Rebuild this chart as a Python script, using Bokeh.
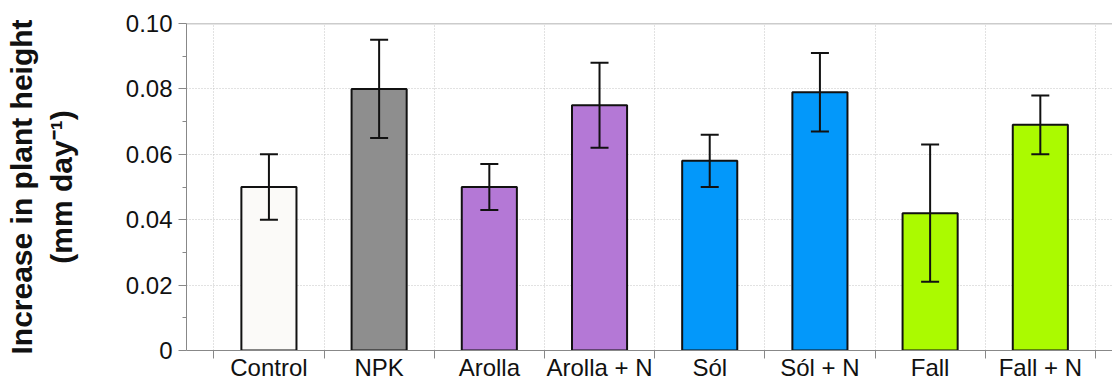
from bokeh.plotting import figure
from bokeh.models import (Range1d, FixedTicker, Whisker, TeeHead, ColumnDataSource,
                          Span, PrintfTickFormatter)
from bokeh.embed import file_html
from bokeh.resources import INLINE

categories = ["Control", "NPK", "Arolla", "Arolla + N", "Sól", "Sól + N", "Fall", "Fall + N"]
means = [0.050, 0.080, 0.050, 0.075, 0.058, 0.079, 0.042, 0.069]
upper = [0.060, 0.095, 0.057, 0.088, 0.066, 0.091, 0.063, 0.078]
lower = [0.040, 0.065, 0.043, 0.062, 0.050, 0.067, 0.021, 0.060]
colors = ["#FBFAF8", "#8E8E8E", "#B478D6", "#B478D6", "#0398FA", "#0398FA", "#ABFA00", "#ABFA00"]
y_ticks = [0, 0.02, 0.04, 0.06, 0.08, 0.10]
y_minor = [0.01, 0.03, 0.05, 0.07, 0.09]

centers = [i + 0.5 for i in range(len(categories))]
bounds = list(range(len(categories) + 1))

src = ColumnDataSource(dict(x=centers, top=means, upper=upper, lower=lower, color=colors))

p = figure(width=1112, height=383, output_backend="svg", toolbar_location=None,
           x_range=Range1d(-0.248, 8.155), y_range=Range1d(0, 0.10))
p.min_border_left = 186
p.min_border_right = 0
p.min_border_top = 23
p.min_border_bottom = 0
p.outline_line_color = None
p.background_fill_color = "white"

p.vbar(x="x", top="top", width=0.5, bottom=0, source=src, fill_color="color",
       line_color="#111111", line_width=2)

head_u = TeeHead(size=18, line_width=2, line_color="#111111")
head_l = TeeHead(size=18, line_width=2, line_color="#111111")
p.add_layout(Whisker(source=src, base="x", upper="upper", lower="lower",
                     line_width=2, line_color="#111111", level="overlay",
                     upper_head=head_u, lower_head=head_l))

p.add_layout(Span(location=0.10, dimension="width", line_color="#999999", line_width=1.5))

# grids
p.xgrid.ticker = FixedTicker(ticks=bounds)
p.ygrid.ticker = FixedTicker(ticks=[0.02, 0.04, 0.06, 0.08])
for g in (p.xgrid, p.ygrid):
    g.grid_line_color = "#C4C4C4"
    g.grid_line_dash = "1 2"
    g.grid_line_width = 1

# x axis
xa = p.xaxis[0]
xa.ticker = FixedTicker(ticks=centers, minor_ticks=bounds)
xa.major_label_overrides = {c: n for c, n in zip(centers, categories)}
xa.major_tick_line_color = None
xa.major_tick_out = 0
xa.major_tick_in = 0
xa.minor_tick_line_color = "#888888"
xa.minor_tick_out = 8
xa.minor_tick_in = 0
xa.axis_line_color = "#888888"
xa.major_label_standoff = -5
xa.major_label_text_font = "Liberation Sans"
xa.major_label_text_font_size = "24px"
xa.major_label_text_color = "#111111"

# y axis
ya = p.yaxis[0]
ya.ticker = FixedTicker(ticks=y_ticks, minor_ticks=y_minor)
ya.formatter = PrintfTickFormatter(format="%.2f")
ya.major_label_overrides = {0: "0"}
ya.major_tick_line_color = "#888888"
ya.major_tick_out = 8
ya.major_tick_in = 0
ya.minor_tick_line_color = "#888888"
ya.minor_tick_out = 4
ya.minor_tick_in = 0
ya.axis_line_color = "#888888"
ya.major_label_standoff = 6
ya.major_label_text_font = "Liberation Sans"
ya.major_label_text_font_size = "24px"
ya.major_label_text_color = "#111111"
ya.axis_label = "Increase in plant height\n(mm day\u207b\u00b9)"
ya.axis_label_text_font = "Liberation Sans"
ya.axis_label_text_font_style = "bold"
ya.axis_label_text_font_size = "30px"
ya.axis_label_text_color = "#111111"
ya.axis_label_text_line_height = 1.2
ya.axis_label_standoff = 45

open("out.html", "w").write(file_html(p, INLINE))
